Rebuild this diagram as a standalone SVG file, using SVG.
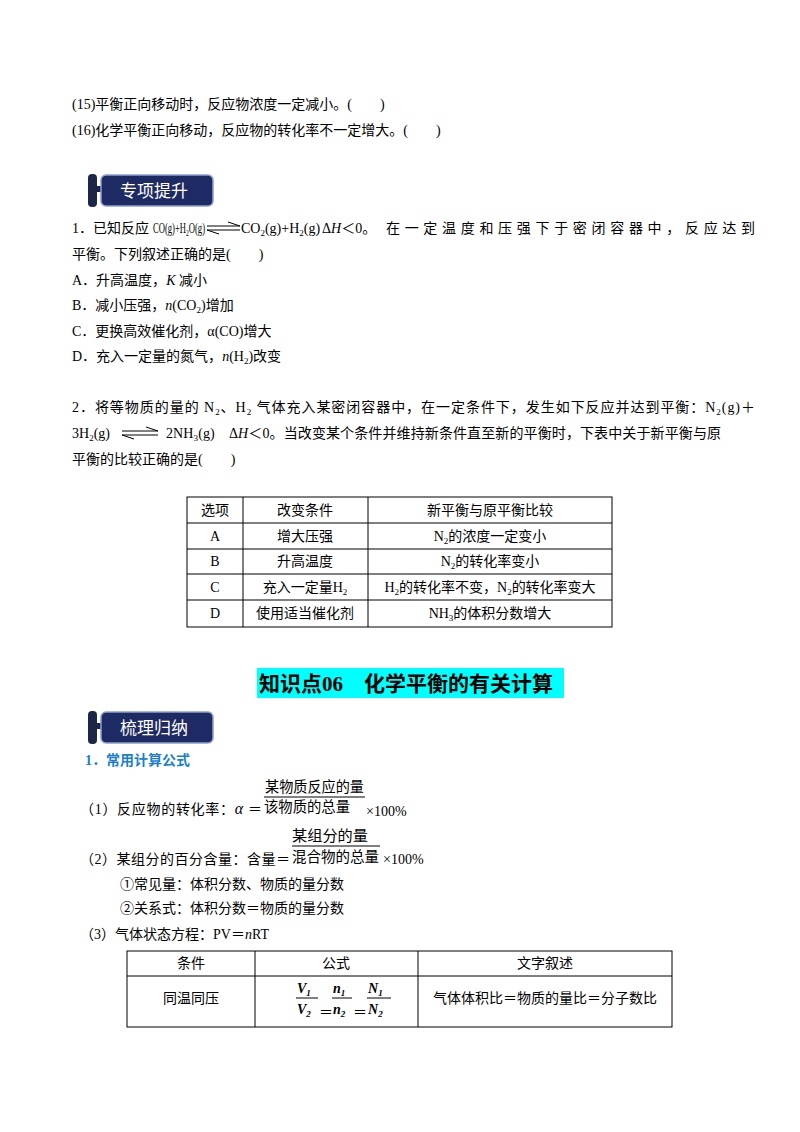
<svg xmlns="http://www.w3.org/2000/svg" width="800" height="1132" viewBox="0 0 800 1132">
<style>
text{font-family:"Liberation Serif","Noto Sans CJK SC",serif;font-size:14px;fill:#000}
.c{text-anchor:middle}
.s{font-size:9px}
.tb{fill:none;stroke:#000;stroke-width:1}
.bn{font-family:"Noto Sans CJK SC",sans-serif;font-size:17px;fill:#fff}
</style>
<rect width="800" height="1132" fill="#fff"/>
<text x="72" y="109">(15)平衡正向移动时，反应物浓度一定减小。(　　)</text>
<text x="72" y="135">(16)化学平衡正向移动，反应物的转化率不一定增大。(　　)</text>
<g id="banner1">
<rect x="88" y="174" width="9" height="33" rx="4" fill="#1c2648"/>
<rect x="97" y="186" width="6" height="6" fill="#1c2648"/>
<rect x="101" y="175" width="112" height="31" rx="5" fill="#1e2a63" stroke="#8fa0d0" stroke-width="1.5"/>
<text class="bn" x="120" y="197">专项提升</text>
</g>
<text x="72" y="233">1．已知反应</text>
<text x="153" y="233" textLength="52" lengthAdjust="spacingAndGlyphs">CO(g)+H<tspan class="s" dy="3">2</tspan><tspan dy="-3">O(g)</tspan></text>
<g stroke="#000" stroke-width="1"><line x1="207" y1="226" x2="240" y2="226"/><line x1="228" y1="222" x2="240" y2="226"/><line x1="207" y1="230" x2="240" y2="230"/><line x1="207" y1="230" x2="219" y2="234"/></g>
<text x="241" y="233">CO<tspan class="s" dy="3">2</tspan><tspan dy="-3">(g)+H</tspan><tspan class="s" dy="3">2</tspan><tspan dy="-3">(g)</tspan></text>
<text x="322" y="233">Δ<tspan font-style="italic">H</tspan>＜0。</text>
<text x="386" y="233" textLength="369" lengthAdjust="spacing">在一定温度和压强下于密闭容器中，反应达到</text>
<text x="72" y="259">平衡。下列叙述正确的是(　　)</text>
<text x="72" y="285">A．升高温度，<tspan font-style="italic">K</tspan> 减小</text>
<text x="72" y="310">B．减小压强，<tspan font-style="italic">n</tspan>(CO<tspan class="s" dy="3">2</tspan><tspan dy="-3">)增加</tspan></text>
<text x="72" y="336">C．更换高效催化剂，α(CO)增大</text>
<text x="72" y="361">D．充入一定量的氮气，<tspan font-style="italic">n</tspan>(H<tspan class="s" dy="3">2</tspan><tspan dy="-3">)改变</tspan></text>
<text x="72" y="412" textLength="683" lengthAdjust="spacing">2．将等物质的量的 N<tspan class="s" dy="3">2</tspan><tspan dy="-3">、H</tspan><tspan class="s" dy="3">2</tspan><tspan dy="-3"> 气体充入某密闭容器中，在一定条件下，发生如下反应并达到平衡：N</tspan><tspan class="s" dy="3">2</tspan><tspan dy="-3">(g)＋</tspan></text>
<text x="72" y="438">3H<tspan class="s" dy="3">2</tspan><tspan dy="-3">(g)</tspan></text>
<g stroke="#000" stroke-width="1"><line x1="122" y1="431" x2="158" y2="431"/><line x1="146" y1="427" x2="158" y2="431"/><line x1="122" y1="435" x2="158" y2="435"/><line x1="122" y1="435" x2="134" y2="439"/></g>
<text x="166" y="438" textLength="555" lengthAdjust="spacing">2NH<tspan class="s" dy="3">3</tspan><tspan dy="-3">(g)　Δ<tspan font-style="italic">H</tspan>＜0。当改变某个条件并维持新条件直至新的平衡时，下表中关于新平衡与原</tspan></text>
<text x="72" y="464">平衡的比较正确的是(　　)</text>
<g id="table1">
<rect class="tb" x="187" y="497" width="425" height="130"/>
<g stroke="#000"><line x1="187" y1="523" x2="612" y2="523"/><line x1="187" y1="549" x2="612" y2="549"/><line x1="187" y1="574" x2="612" y2="574"/><line x1="187" y1="600" x2="612" y2="600"/><line x1="243" y1="497" x2="243" y2="627"/><line x1="368" y1="497" x2="368" y2="627"/></g>
<text class="c" x="215" y="515">选项</text><text class="c" x="305" y="515">改变条件</text><text class="c" x="490" y="515">新平衡与原平衡比较</text>
<text class="c" x="215" y="541">A</text><text class="c" x="305" y="541">增大压强</text><text class="c" x="490" y="541">N<tspan class="s" dy="3">2</tspan><tspan dy="-3">的浓度一定变小</tspan></text>
<text class="c" x="215" y="566">B</text><text class="c" x="305" y="566">升高温度</text><text class="c" x="490" y="566">N<tspan class="s" dy="3">2</tspan><tspan dy="-3">的转化率变小</tspan></text>
<text class="c" x="215" y="592">C</text><text class="c" x="305" y="592">充入一定量H<tspan class="s" dy="3">2</tspan></text><text class="c" x="490" y="592">H<tspan class="s" dy="3">2</tspan><tspan dy="-3">的转化率不变，N</tspan><tspan class="s" dy="3">2</tspan><tspan dy="-3">的转化率变大</tspan></text>
<text class="c" x="215" y="618">D</text><text class="c" x="305" y="618">使用适当催化剂</text><text class="c" x="490" y="618">NH<tspan class="s" dy="3">3</tspan><tspan dy="-3">的体积分数增大</tspan></text>
</g>
<rect x="257" y="668" width="307" height="30" fill="#00ffff"/>
<text x="259" y="691" style="font-size:21px;font-weight:bold">知识点06　化学平衡的有关计算</text>
<g id="banner2">
<rect x="88" y="711" width="9" height="33" rx="4" fill="#1c2648"/>
<rect x="97" y="723" width="6" height="6" fill="#1c2648"/>
<rect x="101" y="712" width="112" height="31" rx="5" fill="#1e2a63" stroke="#8fa0d0" stroke-width="1.5"/>
<text class="bn" x="120" y="734">梳理归纳</text>
</g>
<text x="85" y="765" style="fill:#1a7fd0;font-weight:bold">1．常用计算公式</text>
<text x="265" y="792" textLength="99" lengthAdjust="spacingAndGlyphs" style="font-size:15px">某物质反应的量</text>
<line x1="264" y1="797" x2="365" y2="797" stroke="#000"/>
<text x="80" y="814" textLength="182" lengthAdjust="spacing">（1）反应物的转化率：<tspan font-style="italic" font-size="16">α</tspan> ＝</text>
<text x="264" y="812" textLength="86" lengthAdjust="spacingAndGlyphs" style="font-size:15px">该物质的总量</text>
<text x="366" y="816" style="font-size:14px">×100%</text>
<text x="292" y="841" textLength="76" lengthAdjust="spacingAndGlyphs" style="font-size:15px">某组分的量</text>
<line x1="292" y1="846" x2="380" y2="846" stroke="#000"/>
<text x="80" y="864" textLength="210" lengthAdjust="spacing">（2）某组分的百分含量：含量＝</text>
<text x="292" y="862" textLength="87" lengthAdjust="spacingAndGlyphs" style="font-size:15px">混合物的总量</text>
<text x="383" y="864" style="font-size:14px">×100%</text>
<text x="120" y="889">①常见量：体积分数、物质的量分数</text>
<text x="120" y="913">②关系式：体积分数＝物质的量分数</text>
<text x="80" y="939">（3）气体状态方程：PV＝<tspan font-style="italic">n</tspan>RT</text>
<g id="table2">
<rect class="tb" x="127" y="951" width="545" height="76"/>
<g stroke="#000"><line x1="127" y1="976" x2="672" y2="976"/><line x1="255" y1="951" x2="255" y2="1027"/><line x1="418" y1="951" x2="418" y2="1027"/></g>
<text class="c" x="191" y="968">条件</text><text class="c" x="336" y="968">公式</text><text class="c" x="545" y="968">文字叙述</text>
<text class="c" x="191" y="1003">同温同压</text>
<g style="font-weight:bold;font-style:italic;font-size:14px">
<text x="297" y="993">V<tspan class="s" dy="3">1</tspan></text><text x="297" y="1014">V<tspan class="s" dy="3">2</tspan></text>
<line x1="296" y1="998" x2="318" y2="998" stroke="#000"/>
<text x="333" y="993">n<tspan class="s" dy="3">1</tspan></text><text x="333" y="1014">n<tspan class="s" dy="3">2</tspan></text>
<line x1="332" y1="998" x2="352" y2="998" stroke="#000"/>
<text x="368" y="993">N<tspan class="s" dy="3">1</tspan></text><text x="368" y="1014">N<tspan class="s" dy="3">2</tspan></text>
<line x1="367" y1="998" x2="391" y2="998" stroke="#000"/>
</g>
<text x="319" y="1017">＝</text><text x="353" y="1017">＝</text>
<text class="c" x="545" y="1003">气体体积比＝物质的量比＝分子数比</text>
</g>
</svg>
